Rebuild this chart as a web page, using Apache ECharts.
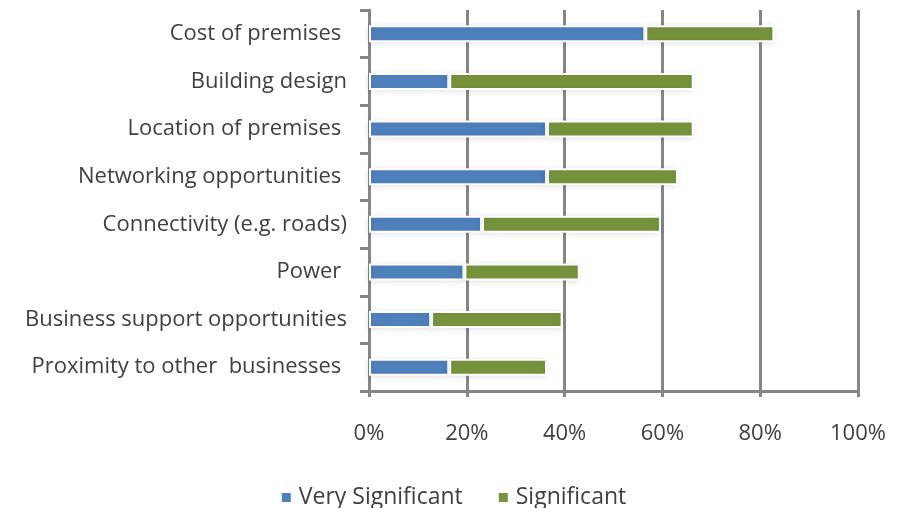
<!DOCTYPE html>
<html>
<head>
<meta charset="utf-8">
<script src="https://cdn.jsdelivr.net/npm/echarts@6/dist/echarts.min.js"></script>
<style>
  html, body { margin: 0; padding: 0; background: #fff; }
  #chart { width: 906px; height: 508px; }
</style>
</head>
<body>
<div id="chart"></div>
<script>
// Factors rated by significance (share of respondents, %)
const categories = [
  'Cost of premises ',
  'Building design',
  'Location of premises ',
  'Networking opportunities ',
  'Connectivity (e.g. roads)',
  'Power ',
  'Business support opportunities',
  'Proximity to other  businesses '
];
const verySignificant = [56.5, 16.4, 36.4, 36.4, 23.1, 19.5, 12.7, 16.4];
const significant     = [26.4, 50.0, 30.0, 26.8, 36.6, 23.6, 26.9, 20.0];
const xTicks = [0, 20, 40, 60, 80, 100];

const seriesNames = ['Very Significant', 'Significant'];
const colors = ['#4F81BD', '#77933C'];
const textColor = '#404040';
const lineColor = '#868686';
const fontFamily = "'Open Sans', 'Liberation Sans', sans-serif";

function barSeries(name, values, color) {
  return {
    name: name,
    type: 'bar',
    stack: 'total',
    barWidth: 17,
    data: values,
    itemStyle: {
      color: color,
      borderColor: '#ffffff',
      borderWidth: 2,
      shadowColor: 'rgba(0,0,0,0.10)',
      shadowBlur: 6,
      shadowOffsetX: -1,
      shadowOffsetY: 1
    },
    emphasis: { disabled: true }
  };
}

const chart = echarts.init(document.getElementById('chart'), null, { renderer: 'canvas' });
chart.setOption({
  animation: false,
  backgroundColor: '#ffffff',
  textStyle: { fontFamily: fontFamily, color: textColor },
  grid: { left: 369, right: 48, top: 10, bottom: 117, containLabel: false },
  legend: {
    top: 481,
    left: 'center',
    itemGap: 34,
    itemWidth: 11,
    itemHeight: 11,
    icon: 'rect',
    data: seriesNames,
    textStyle: { fontSize: 23, color: textColor, fontFamily: fontFamily, padding: [0, 0, 0, 2] }
  },
  xAxis: {
    type: 'value',
    min: xTicks[0],
    max: xTicks[xTicks.length - 1],
    interval: xTicks[1] - xTicks[0],
    axisLine: { show: true, lineStyle: { color: lineColor, width: 3 } },
    axisTick: { show: true, length: 6, lineStyle: { color: lineColor, width: 3 } },
    splitLine: { show: true, lineStyle: { color: lineColor, width: 3 } },
    axisLabel: {
      formatter: '{value}%',
      fontSize: 22,
      color: textColor,
      margin: 32,
      fontFamily: fontFamily
    }
  },
  yAxis: {
    type: 'category',
    inverse: true,
    data: categories,
    axisLine: { show: true, lineStyle: { color: lineColor, width: 3 } },
    axisTick: { show: true, length: 9, lineStyle: { color: lineColor, width: 3 } },
    axisLabel: { fontSize: 22, color: textColor, margin: 22, fontFamily: fontFamily }
  },
  series: [
    barSeries(seriesNames[0], verySignificant, colors[0]),
    barSeries(seriesNames[1], significant, colors[1])
  ]
});
</script>
</body>
</html>
